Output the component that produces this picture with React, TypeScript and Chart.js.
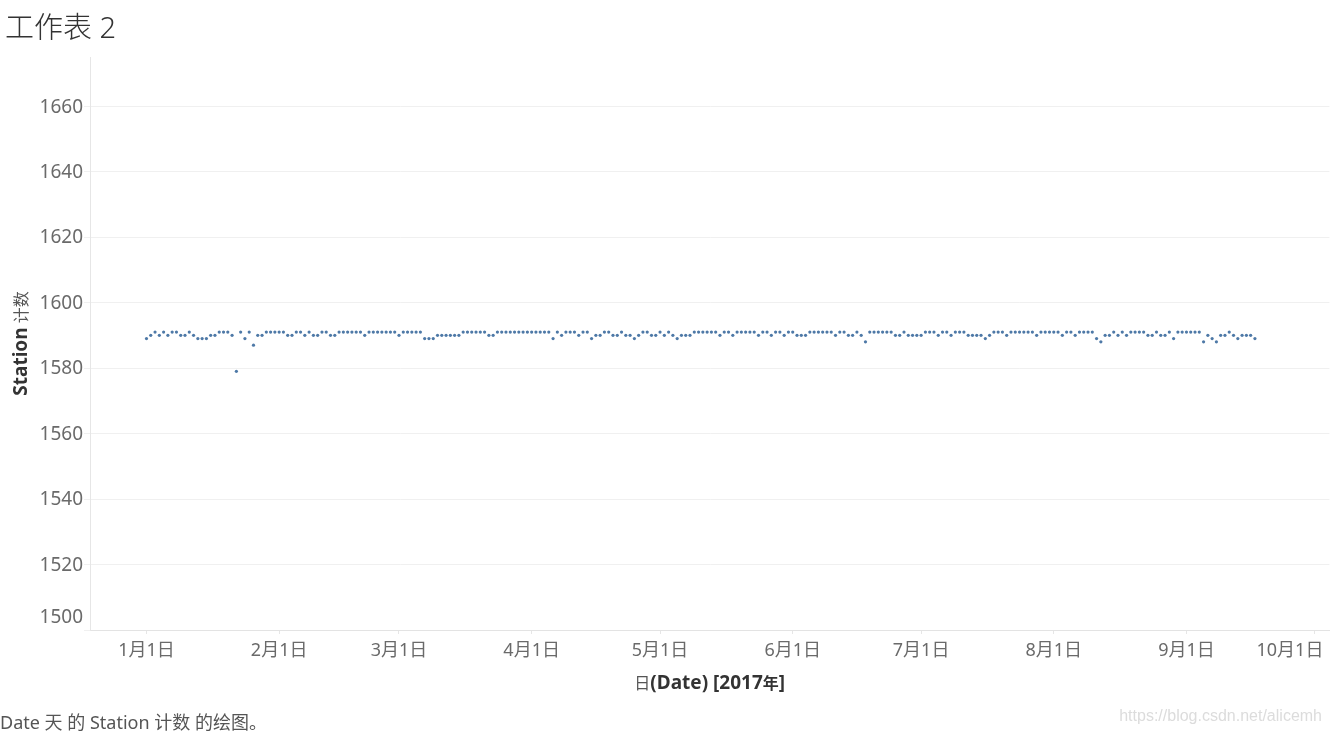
import React, { useEffect, useRef } from "react";
import { Chart, registerables } from "chart.js";

Chart.register(...registerables);

// ---- Data (Station 计数 per day of 2017, day index 0 = 1月1日) ----
const monthLabels = ["1月1日", "2月1日", "3月1日", "4月1日", "5月1日", "6月1日", "7月1日", "8月1日", "9月1日", "10月1日"];
const monthStartDays = [0, 31, 59, 90, 120, 151, 181, 212, 243, 273];
const yTickValues = [1500, 1520, 1540, 1560, 1580, 1600, 1620, 1640, 1660];

const jan = [1589, 1590, 1591, 1590, 1591, 1590, 1591, 1591, 1590, 1590, 1591, 1590, 1589, 1589, 1589, 1590, 1590, 1591, 1591, 1591, 1590, 1579, 1591, 1589, 1591, 1587, 1590, 1590, 1591, 1591, 1591];
const feb = [1591, 1591, 1590, 1590, 1591, 1591, 1590, 1591, 1590, 1590, 1591, 1591, 1590, 1590, 1591, 1591, 1591, 1591, 1591, 1591, 1590, 1591, 1591, 1591, 1591, 1591, 1591, 1591];
const mar = [1590, 1591, 1591, 1591, 1591, 1591, 1589, 1589, 1589, 1590, 1590, 1590, 1590, 1590, 1590, 1591, 1591, 1591, 1591, 1591, 1591, 1590, 1590, 1591, 1591, 1591, 1591, 1591, 1591, 1591, 1591];
const apr = [1591, 1591, 1591, 1591, 1591, 1589, 1591, 1590, 1591, 1591, 1591, 1590, 1591, 1591, 1589, 1590, 1590, 1591, 1591, 1590, 1590, 1591, 1590, 1590, 1589, 1590, 1591, 1591, 1590, 1590];
const may = [1591, 1590, 1591, 1590, 1589, 1590, 1590, 1590, 1591, 1591, 1591, 1591, 1591, 1591, 1590, 1591, 1591, 1590, 1591, 1591, 1591, 1591, 1591, 1590, 1591, 1591, 1590, 1591, 1591, 1590, 1591];
const jun = [1591, 1590, 1590, 1590, 1591, 1591, 1591, 1591, 1591, 1591, 1590, 1591, 1591, 1590, 1590, 1591, 1590, 1588, 1591, 1591, 1591, 1591, 1591, 1591, 1590, 1590, 1591, 1590, 1590, 1590];
const jul = [1590, 1591, 1591, 1591, 1590, 1591, 1591, 1590, 1591, 1591, 1591, 1590, 1590, 1590, 1590, 1589, 1590, 1591, 1591, 1591, 1590, 1591, 1591, 1591, 1591, 1591, 1591, 1590, 1591, 1591, 1591];
const aug = [1591, 1591, 1590, 1591, 1591, 1590, 1591, 1591, 1591, 1591, 1589, 1588, 1590, 1590, 1591, 1590, 1591, 1590, 1591, 1591, 1591, 1591, 1590, 1590, 1591, 1590, 1590, 1591, 1589, 1591, 1591];
const sep = [1591, 1591, 1591, 1591, 1588, 1590, 1589, 1588, 1590, 1590, 1591, 1590, 1589, 1590, 1590, 1590, 1589];

const dailyCounts = [...jan, ...feb, ...mar, ...apr, ...may, ...jun, ...jul, ...aug, ...sep];

const FONT = '"Noto Sans", "Noto Sans CJK SC", sans-serif';

type Seg = { text: string; font: string; color: string };

const xTitleSegs: Seg[] = [
  { text: "日", font: `16px ${FONT}`, color: "#555555" },
  { text: "(Date) [2017", font: `bold 19px ${FONT}`, color: "#333333" },
  { text: "年", font: `bold 16px ${FONT}`, color: "#333333" },
  { text: "]", font: `bold 19px ${FONT}`, color: "#333333" },
];
const yTitleSegs: Seg[] = [
  { text: "Station", font: `bold 19px ${FONT}`, color: "#333333" },
  { text: " 计数", font: `16px ${FONT}`, color: "#555555" },
];

function drawSegments(ctx: CanvasRenderingContext2D, segs: Seg[], cx: number, baseline: number) {
  let total = 0;
  const widths = segs.map((s) => {
    ctx.font = s.font;
    const w = ctx.measureText(s.text).width;
    total += w;
    return w;
  });
  let x = cx - total / 2;
  ctx.textAlign = "left";
  ctx.textBaseline = "alphabetic";
  segs.forEach((s, i) => {
    ctx.font = s.font;
    ctx.fillStyle = s.color;
    ctx.fillText(s.text, x, baseline);
    x += widths[i];
  });
}

const axisTextPlugin = {
  id: "axisText",
  afterDraw(chart: any) {
    const ctx: CanvasRenderingContext2D = chart.ctx;
    const yScale = chart.scales.y;
    const xScale = chart.scales.x;
    const { left, right, top, bottom } = chart.chartArea;
    ctx.save();
    // y tick labels
    ctx.font = `19px ${FONT}`;
    ctx.fillStyle = "#6a6a6a";
    ctx.textAlign = "right";
    ctx.textBaseline = "middle";
    yScale.ticks.forEach((t: any) => {
      let py = yScale.getPixelForValue(t.value);
      py = Math.min(py, bottom - 13);
      ctx.fillText(String(t.value), left - 7, py + 1);
    });
    // x tick labels (kept inside the plot's right edge, like the original)
    ctx.font = `18px ${FONT}`;
    ctx.textAlign = "center";
    xScale.ticks.forEach((t: any) => {
      const i = monthStartDays.indexOf(Number(t.value));
      if (i < 0) return;
      const label = monthLabels[i];
      const w = ctx.measureText(label).width;
      let px = xScale.getPixelForValue(t.value);
      px = Math.min(px, right - 6 - w / 2);
      ctx.fillText(label, px, 651);
    });
    drawSegments(ctx, xTitleSegs, (left + right) / 2, 689);
    ctx.translate(27, (top + bottom) / 2);
    ctx.rotate(-Math.PI / 2);
    drawSegments(ctx, yTitleSegs, 0, 0);
    ctx.restore();
  },
};

export default function App() {
  const ref = useRef<HTMLCanvasElement>(null);

  useEffect(() => {
    const canvas = ref.current;
    if (!canvas) return;
    const chart = new Chart(canvas, {
      type: "scatter",
      data: {
        datasets: [
          {
            data: dailyCounts.map((v, i) => ({ x: i, y: v })),
            backgroundColor: "#4e79a7",
            borderWidth: 0,
            pointRadius: 1.6,
            pointHoverRadius: 1.6,
          },
        ],
      },
      options: {
        responsive: false,
        animation: false,
        layout: { padding: { top: 57, left: 0, right: 0, bottom: 0 } },
        plugins: { legend: { display: false }, tooltip: { enabled: false }, title: { display: false } },
        scales: {
          x: {
            type: "linear",
            min: -13.2,
            max: 276.4,
            afterBuildTicks: (s: any) => {
              s.ticks = monthStartDays.map((v) => ({ value: v }));
            },
            afterFit: (s: any) => {
              s.height = 104;
              s.paddingLeft = 0;
              s.paddingRight = 0;
            },
            ticks: { display: false, autoSkip: false },
            grid: { drawOnChartArea: false, drawTicks: true, tickLength: 4, color: "#e6e6e6" },
            border: { color: "#e3e3e3" },
          },
          y: {
            type: "linear",
            min: 1500,
            max: 1675,
            afterBuildTicks: (s: any) => {
              s.ticks = yTickValues.map((v) => ({ value: v }));
            },
            afterFit: (s: any) => {
              s.width = 90;
            },
            ticks: { display: false },
            grid: { color: "#f0f0f0", tickLength: 6, drawTicks: true },
            border: { color: "#e6e6e6" },
          },
        },
      },
      plugins: [axisTextPlugin],
    } as any);
    return () => chart.destroy();
  }, []);

  return (
    <div style={{ position: "fixed", left: 0, top: 0, width: 1331, height: 734, background: "#ffffff", overflow: "hidden" }}>
      <canvas ref={ref} width={1331} height={734} style={{ position: "absolute", left: 0, top: 0, display: "block" }} />
      <div
        style={{
          position: "absolute",
          left: 5,
          top: 12,
          fontFamily: FONT,
          fontSize: 29,
          fontWeight: 300,
          lineHeight: "30px",
          color: "#333333",
          whiteSpace: "nowrap",
        }}
      >
        工作表 2
      </div>
      <div
        style={{
          position: "absolute",
          left: 0,
          top: 711,
          fontFamily: FONT,
          fontSize: 18,
          lineHeight: "22px",
          color: "#555555",
          whiteSpace: "nowrap",
        }}
      >
        Date 天 的 Station 计数 的绘图。
      </div>
      <div
        style={{
          position: "absolute",
          right: 9,
          top: 706,
          fontFamily: '"Liberation Sans", Arial, sans-serif',
          fontSize: 16,
          lineHeight: "20px",
          color: "#dcdcdc",
          whiteSpace: "nowrap",
        }}
      >
        https://blog.csdn.net/alicemh
      </div>
    </div>
  );
}
